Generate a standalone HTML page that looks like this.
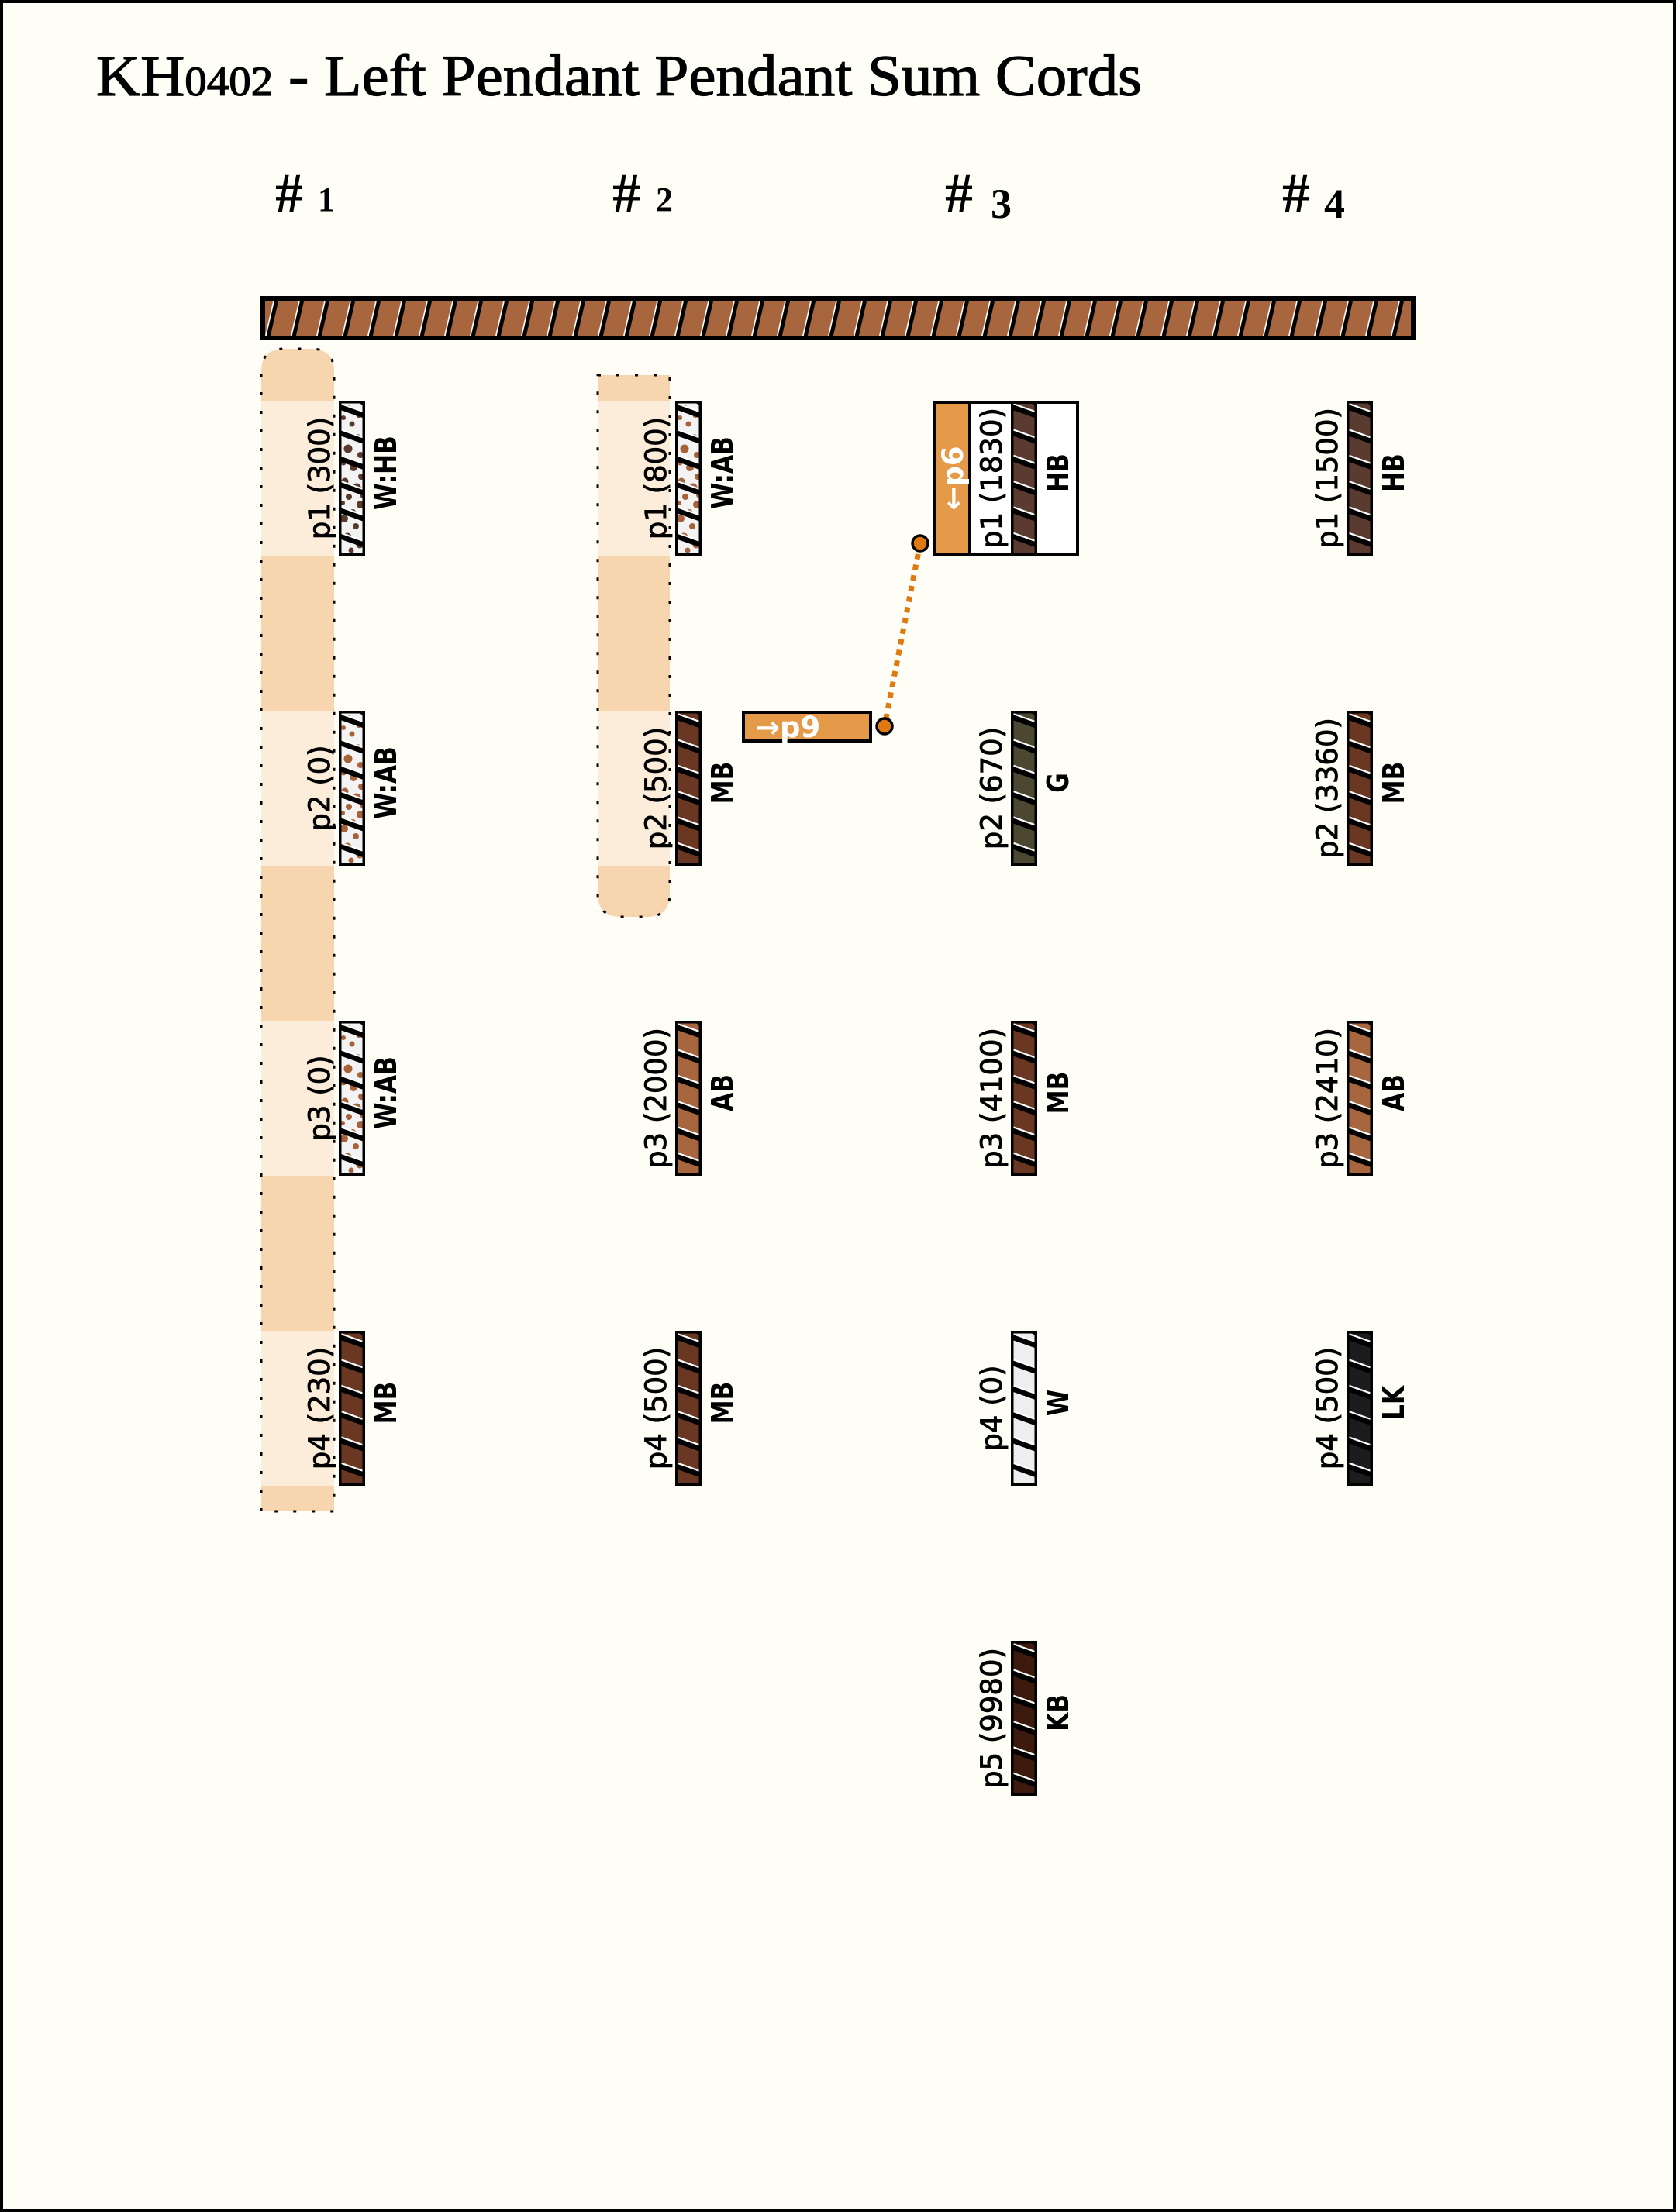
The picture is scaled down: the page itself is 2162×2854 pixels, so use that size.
<!DOCTYPE html>
<html>
<head>
<meta charset="utf-8">
<style>
html,body{margin:0;padding:0;background:#FFFEF6;}
svg{display:block;}
.num{font-family:"DejaVu Sans","Liberation Sans",sans-serif;font-size:37px;fill:#000;stroke:#000;stroke-width:0.9px;}
.col{font-family:"DejaVu Sans","Liberation Sans",sans-serif;font-size:38px;font-weight:bold;fill:#000;}
.wt{font-family:"DejaVu Sans","Liberation Sans",sans-serif;font-size:37px;font-weight:bold;fill:#fff;}
.hd{font-family:"Liberation Serif",serif;font-weight:bold;fill:#000;}
</style>
</head>
<body>
<svg width="2162" height="2854" viewBox="0 0 2162 2854" xmlns="http://www.w3.org/2000/svg">
<defs>
  <clipPath id="cc"><rect x="0" y="0" width="34" height="200"/></clipPath>
  <g id="st" clip-path="url(#cc)">
    <line x1="0" y1="7.5" x2="34" y2="19.5" stroke="#000" stroke-width="7"/>
    <line x1="0" y1="3" x2="34" y2="15" stroke="#fff" stroke-width="2.2"/>
    <line x1="0" y1="40.83" x2="34" y2="52.83" stroke="#000" stroke-width="7"/>
    <line x1="0" y1="36.33" x2="34" y2="48.33" stroke="#fff" stroke-width="2.2"/>
    <line x1="0" y1="74.17" x2="34" y2="86.17" stroke="#000" stroke-width="7"/>
    <line x1="0" y1="69.67" x2="34" y2="81.67" stroke="#fff" stroke-width="2.2"/>
    <line x1="0" y1="107.5" x2="34" y2="119.5" stroke="#000" stroke-width="7"/>
    <line x1="0" y1="103" x2="34" y2="115" stroke="#fff" stroke-width="2.2"/>
    <line x1="0" y1="140.83" x2="34" y2="152.83" stroke="#000" stroke-width="7"/>
    <line x1="0" y1="136.33" x2="34" y2="148.33" stroke="#fff" stroke-width="2.2"/>
    <line x1="0" y1="174.17" x2="34" y2="186.17" stroke="#000" stroke-width="7"/>
    <line x1="0" y1="169.67" x2="34" y2="181.67" stroke="#fff" stroke-width="2.2"/>
    <polygon points="22,0 34,0 34,8" fill="#000"/>
    <polygon points="0,194 0,200 12,200" fill="#000"/>
  </g>
  <g id="dots">
    <circle cx="11" cy="10" r="5"/><circle cx="26" cy="18" r="4"/><circle cx="17" cy="30" r="3.5"/>
    <circle cx="7" cy="42" r="4"/><circle cx="24" cy="48" r="5"/><circle cx="12" cy="62" r="5.5"/>
    <circle cx="28" cy="70" r="4"/><circle cx="6" cy="80" r="3.5"/><circle cx="19" cy="86" r="5"/>
    <circle cx="29" cy="98" r="4"/><circle cx="8" cy="104" r="4.5"/><circle cx="23" cy="112" r="5.5"/>
    <circle cx="13" cy="124" r="4"/><circle cx="28" cy="134" r="5"/><circle cx="18" cy="144" r="4"/>
    <circle cx="7" cy="152" r="5"/><circle cx="22" cy="162" r="4"/><circle cx="11" cy="176" r="5.5"/>
    <circle cx="27" cy="186" r="4.5"/><circle cx="16" cy="193" r="3.5"/><circle cx="6" cy="22" r="3"/>
    <circle cx="30" cy="122" r="3"/><circle cx="5" cy="132" r="3"/>
  </g>
  <g id="bd"><rect x="1.75" y="1.75" width="30.5" height="196.5" fill="none" stroke="#000" stroke-width="3.5"/></g>
  <pattern id="barp" patternUnits="userSpaceOnUse" x="339" y="382" width="33" height="57">
    <line x1="6" y1="57" x2="19" y2="0" stroke="#000" stroke-width="5"/>
    <line x1="2.5" y1="57" x2="15.5" y2="0" stroke="#fff" stroke-width="1.6"/>
  </pattern>
  <clipPath id="b1"><path d="M337,1950 L337,480 Q337,450 367,450 L401,450 Q431,450 431,480 L431,1950 Z"/></clipPath>
  <clipPath id="b2"><path d="M771,484 L864,484 L864,1153 Q864,1183 834,1183 L801,1183 Q771,1183 771,1153 Z"/></clipPath>
</defs>

<!-- background + frame -->
<rect x="2" y="2" width="2158" height="2850" fill="#FFFEF6" stroke="#000" stroke-width="4"/>

<!-- title -->
<text x="124" y="123" font-family="Liberation Serif, serif" font-size="75" fill="#000" stroke="#000" stroke-width="1.2" textLength="1349" lengthAdjust="spacingAndGlyphs">KH<tspan font-size="54">0402</tspan> - Left Pendant Pendant Sum Cords</text>

<!-- headings -->
<text class="hd" x="355" y="273" font-size="72">#</text><text class="hd" x="410" y="272" font-size="44">1</text>
<text class="hd" x="790" y="273" font-size="72">#</text><text class="hd" x="846" y="272" font-size="44">2</text>
<text class="hd" x="1219" y="273" font-size="72">#</text><text class="hd" x="1278" y="281" font-size="54">3</text>
<text class="hd" x="1654" y="273" font-size="72">#</text><text class="hd" x="1708" y="281" font-size="54">4</text>

<!-- main bar -->
<rect x="339" y="385" width="1484" height="51" fill="#A8663F"/>
<rect x="339" y="385" width="1484" height="51" fill="url(#barp)"/>
<rect x="339" y="385" width="1484" height="51" fill="none" stroke="#000" stroke-width="6"/>

<!-- group band col1 -->
<g clip-path="url(#b1)">
  <rect x="337" y="450" width="94" height="1500" fill="#F6D5AF"/>
  <rect x="337" y="517" width="94" height="200" fill="#FBEDDA"/>
  <rect x="337" y="917" width="94" height="200" fill="#FBEDDA"/>
  <rect x="337" y="1317" width="94" height="200" fill="#FBEDDA"/>
  <rect x="337" y="1717" width="94" height="200" fill="#FBEDDA"/>
</g>
<path d="M337,1950 L337,480 Q337,450 367,450 L401,450 Q431,450 431,480 L431,1950 Z" fill="none" stroke="#000" stroke-width="3" stroke-dasharray="4 20"/>

<!-- group band col2 -->
<g clip-path="url(#b2)">
  <rect x="771" y="484" width="93" height="700" fill="#F6D5AF"/>
  <rect x="771" y="517" width="93" height="200" fill="#FBEDDA"/>
  <rect x="771" y="917" width="93" height="200" fill="#FBEDDA"/>
</g>
<path d="M771,484 L864,484 L864,1153 Q864,1183 834,1183 L801,1183 Q771,1183 771,1153 Z" fill="none" stroke="#000" stroke-width="3" stroke-dasharray="4 20"/>

<!-- ===== Column 1 (center 454) ===== -->
<g transform="translate(437,517)"><rect width="34" height="200" fill="#F3F3F3"/><use href="#dots" fill="#5A3A2C"/><use href="#st"/><use href="#bd"/></g>
<text class="num" transform="translate(425,617) rotate(-90)" text-anchor="middle">p1 (300)</text>
<text class="col" transform="translate(511,610) rotate(-90) scale(0.82,1)" text-anchor="middle">W:HB</text>

<g transform="translate(437,917)"><rect width="34" height="200" fill="#F3F3F3"/><use href="#dots" fill="#A8623A"/><use href="#st"/><use href="#bd"/></g>
<text class="num" transform="translate(425,1017) rotate(-90)" text-anchor="middle">p2 (0)</text>
<text class="col" transform="translate(511,1010) rotate(-90) scale(0.82,1)" text-anchor="middle">W:AB</text>

<g transform="translate(437,1317)"><rect width="34" height="200" fill="#F3F3F3"/><use href="#dots" fill="#A8623A"/><use href="#st"/><use href="#bd"/></g>
<text class="num" transform="translate(425,1417) rotate(-90)" text-anchor="middle">p3 (0)</text>
<text class="col" transform="translate(511,1410) rotate(-90) scale(0.82,1)" text-anchor="middle">W:AB</text>

<g transform="translate(437,1717)"><rect width="34" height="200" fill="#6A3822"/><use href="#st"/><use href="#bd"/></g>
<text class="num" transform="translate(425,1817) rotate(-90)" text-anchor="middle">p4 (230)</text>
<text class="col" transform="translate(511,1810) rotate(-90) scale(0.82,1)" text-anchor="middle">MB</text>

<!-- ===== Column 2 (center 888) ===== -->
<g transform="translate(871,517)"><rect width="34" height="200" fill="#F3F3F3"/><use href="#dots" fill="#A8623A"/><use href="#st"/><use href="#bd"/></g>
<text class="num" transform="translate(859,617) rotate(-90)" text-anchor="middle">p1 (800)</text>
<text class="col" transform="translate(945,610) rotate(-90) scale(0.82,1)" text-anchor="middle">W:AB</text>

<g transform="translate(871,917)"><rect width="34" height="200" fill="#6A3822"/><use href="#st"/><use href="#bd"/></g>
<text class="num" transform="translate(859,1017) rotate(-90)" text-anchor="middle">p2 (500)</text>
<text class="col" transform="translate(945,1010) rotate(-90) scale(0.82,1)" text-anchor="middle">MB</text>

<g transform="translate(871,1317)"><rect width="34" height="200" fill="#A8663F"/><use href="#st"/><use href="#bd"/></g>
<text class="num" transform="translate(859,1417) rotate(-90)" text-anchor="middle">p3 (2000)</text>
<text class="col" transform="translate(945,1410) rotate(-90) scale(0.82,1)" text-anchor="middle">AB</text>

<g transform="translate(871,1717)"><rect width="34" height="200" fill="#6A3822"/><use href="#st"/><use href="#bd"/></g>
<text class="num" transform="translate(859,1817) rotate(-90)" text-anchor="middle">p4 (500)</text>
<text class="col" transform="translate(945,1810) rotate(-90) scale(0.82,1)" text-anchor="middle">MB</text>

<!-- ===== Column 3 (center 1321) ===== -->
<rect x="1203" y="517" width="47" height="200" fill="#E49A48"/>
<rect x="1250" y="517" width="142" height="200" fill="#FFFFFF"/>
<g transform="translate(1304,517)"><rect width="34" height="200" fill="#5B3B2F"/><use href="#st"/><use href="#bd"/></g>
<rect x="1205" y="519" width="185" height="197" fill="none" stroke="#000" stroke-width="4"/>
<line x1="1251" y1="517" x2="1251" y2="717" stroke="#000" stroke-width="4"/>
<text class="wt" transform="translate(1242,617) rotate(-90)" text-anchor="middle">←p6</text>
<text class="num" transform="translate(1292,617) rotate(-90)" text-anchor="middle">p1 (1830)</text>
<text class="col" transform="translate(1378,610) rotate(-90) scale(0.82,1)" text-anchor="middle">HB</text>

<g transform="translate(1304,917)"><rect width="34" height="200" fill="#4B4731"/><use href="#st"/><use href="#bd"/></g>
<text class="num" transform="translate(1292,1017) rotate(-90)" text-anchor="middle">p2 (670)</text>
<text class="col" transform="translate(1378,1010) rotate(-90) scale(0.82,1)" text-anchor="middle">G</text>

<g transform="translate(1304,1317)"><rect width="34" height="200" fill="#6A3822"/><use href="#st"/><use href="#bd"/></g>
<text class="num" transform="translate(1292,1417) rotate(-90)" text-anchor="middle">p3 (4100)</text>
<text class="col" transform="translate(1378,1410) rotate(-90) scale(0.82,1)" text-anchor="middle">MB</text>

<g transform="translate(1304,1717)"><rect width="34" height="200" fill="#EEEEEE"/><use href="#st"/><use href="#bd"/></g>
<text class="num" transform="translate(1292,1817) rotate(-90)" text-anchor="middle">p4 (0)</text>
<text class="col" transform="translate(1378,1810) rotate(-90) scale(0.82,1)" text-anchor="middle">W</text>

<g transform="translate(1304,2117)"><rect width="34" height="200" fill="#3D1A0E"/><use href="#st"/><use href="#bd"/></g>
<text class="num" transform="translate(1292,2217) rotate(-90)" text-anchor="middle">p5 (9980)</text>
<text class="col" transform="translate(1378,2210) rotate(-90) scale(0.82,1)" text-anchor="middle">KB</text>

<!-- ===== Column 4 (center 1754) ===== -->
<g transform="translate(1737,517)"><rect width="34" height="200" fill="#5B3B2F"/><use href="#st"/><use href="#bd"/></g>
<text class="num" transform="translate(1725,617) rotate(-90)" text-anchor="middle">p1 (1500)</text>
<text class="col" transform="translate(1811,610) rotate(-90) scale(0.82,1)" text-anchor="middle">HB</text>

<g transform="translate(1737,917)"><rect width="34" height="200" fill="#6A3822"/><use href="#st"/><use href="#bd"/></g>
<text class="num" transform="translate(1725,1017) rotate(-90)" text-anchor="middle">p2 (3360)</text>
<text class="col" transform="translate(1811,1010) rotate(-90) scale(0.82,1)" text-anchor="middle">MB</text>

<g transform="translate(1737,1317)"><rect width="34" height="200" fill="#A8663F"/><use href="#st"/><use href="#bd"/></g>
<text class="num" transform="translate(1725,1417) rotate(-90)" text-anchor="middle">p3 (2410)</text>
<text class="col" transform="translate(1811,1410) rotate(-90) scale(0.82,1)" text-anchor="middle">AB</text>

<g transform="translate(1737,1717)"><rect width="34" height="200" fill="#1C1C1C"/><use href="#st"/><use href="#bd"/></g>
<text class="num" transform="translate(1725,1817) rotate(-90)" text-anchor="middle">p4 (500)</text>
<text class="col" transform="translate(1811,1810) rotate(-90) scale(0.82,1)" text-anchor="middle">LK</text>

<!-- connector and p9 box -->
<rect x="959" y="919" width="164" height="37" fill="#E49A48" stroke="#000" stroke-width="4"/>
<text class="wt" x="975" y="951">→p9</text>
<line x1="1187" y1="701" x2="1141" y2="937" stroke="#E07A10" stroke-width="7" stroke-dasharray="7 7"/>
<circle cx="1187" cy="701" r="10" fill="#E07A10" stroke="#000" stroke-width="3.5"/>
<circle cx="1141" cy="937" r="10" fill="#E07A10" stroke="#000" stroke-width="3.5"/>
</svg>
</body>
</html>
